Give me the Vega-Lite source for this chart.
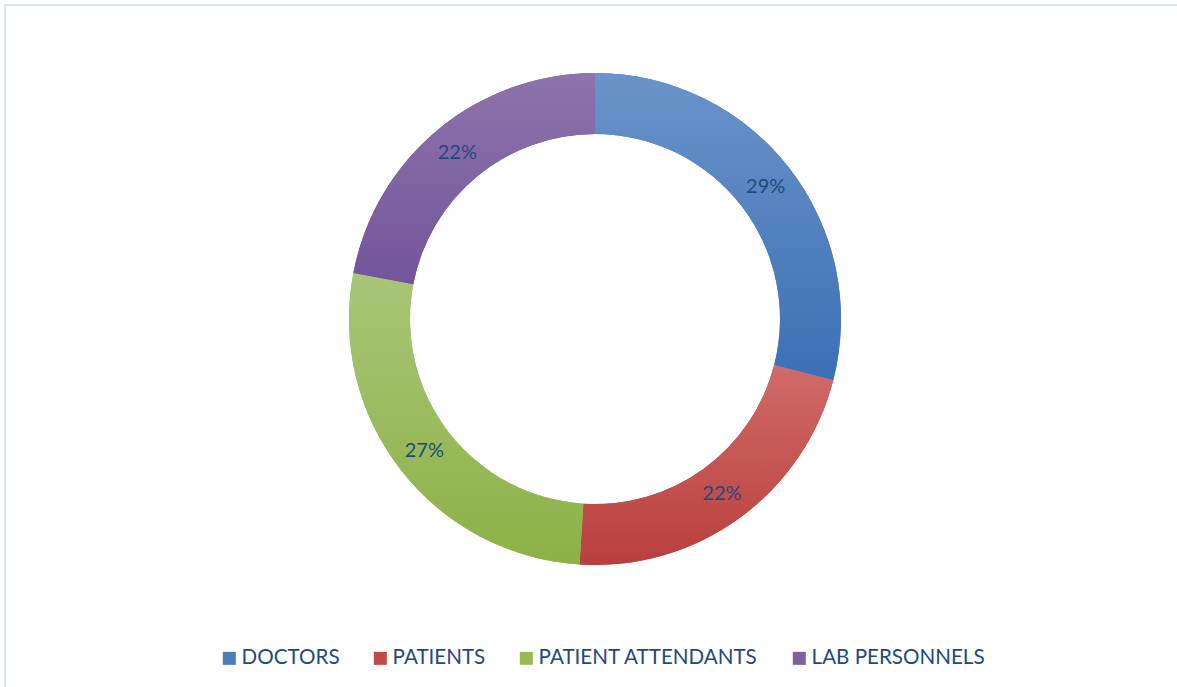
{
  "$schema": "https://vega.github.io/schema/vega-lite/v6.json",
  "autosize": "none",
  "padding": {"left": 5, "top": 5, "right": 0, "bottom": 0},
  "width": 1180,
  "height": 700,
  "background": "white",
  "view": {"stroke": "#D9E3F3", "strokeWidth": 2},
  "config": {
    "view": {"stroke": "#D9E3F3", "strokeWidth": 2},
    "style": {"view": {"stroke": "#D9E3F3", "strokeWidth": 2}},
    "font": "Lato"
  },
  "data": {
    "values": [
      {"cat": "DOCTORS", "value": 29, "label": "29%", "ord": 1},
      {"cat": "PATIENTS", "value": 22, "label": "22%", "ord": 2},
      {"cat": "PATIENT ATTENDANTS", "value": 27, "label": "27%", "ord": 3},
      {"cat": "LAB PERSONNELS", "value": 22, "label": "22%", "ord": 4}
    ]
  },
  "encoding": {
    "theta": {"field": "value", "type": "quantitative", "stack": true},
    "order": {"field": "ord", "type": "quantitative"}
  },
  "layer": [
    {
      "mark": {"type": "arc", "outerRadius": 246, "innerRadius": 185, "yOffset": -36},
      "encoding": {
        "color": {
          "field": "cat",
          "type": "nominal",
          "sort": ["DOCTORS", "PATIENTS", "PATIENT ATTENDANTS", "LAB PERSONNELS"],
          "scale": {
            "domain": ["DOCTORS", "PATIENTS", "PATIENT ATTENDANTS", "LAB PERSONNELS"],
            "range": ["#4A7EBB", "#BE4B48", "#98B954", "#7D60A0"]
          },
          "legend": {
            "title": null,
            "orient": "none",
            "direction": "horizontal",
            "legendX": 214,
            "legendY": 643,
            "symbolType": "square",
            "symbolSize": 169,
            "symbolStrokeWidth": 0,
            "labelFont": "Lato",
            "labelFontSize": 20.6,
            "labelColor": "#1F497D",
            "labelOffset": 2,
            "labelLimit": 400,
            "columnPadding": 30,
            "padding": 0
          }
        }
      }
    },
    {
      "mark": {"type": "arc", "outerRadius": 246, "innerRadius": 185, "yOffset": -36},
      "encoding": {
        "color": {
          "condition": [
            {"test": "datum.cat === 'DOCTORS'", "value": {"gradient": "linear", "x1": 0, "y1": 0, "x2": 0, "y2": 1, "stops": [{"offset": 0, "color": "#6A93C9"}, {"offset": 1, "color": "#3B70B5"}]}},
            {"test": "datum.cat === 'PATIENTS'", "value": {"gradient": "linear", "x1": 0, "y1": 0, "x2": 0, "y2": 1, "stops": [{"offset": 0, "color": "#D06B69"}, {"offset": 1, "color": "#B93F3D"}]}},
            {"test": "datum.cat === 'PATIENT ATTENDANTS'", "value": {"gradient": "linear", "x1": 0, "y1": 0, "x2": 0, "y2": 1, "stops": [{"offset": 0, "color": "#A9C578"}, {"offset": 1, "color": "#8DB146"}]}}
          ],
          "value": {"gradient": "linear", "x1": 0, "y1": 0, "x2": 0, "y2": 1, "stops": [{"offset": 0, "color": "#8D74AC"}, {"offset": 1, "color": "#72559A"}]}
        }
      }
    },
    {
      "mark": {"type": "text", "radius": 216, "yOffset": -36, "font": "Lato", "fontSize": 20, "color": "#1F497D", "align": "center", "baseline": "middle"},
      "encoding": {
        "text": {"field": "label", "type": "nominal"}
      }
    }
  ]
}
